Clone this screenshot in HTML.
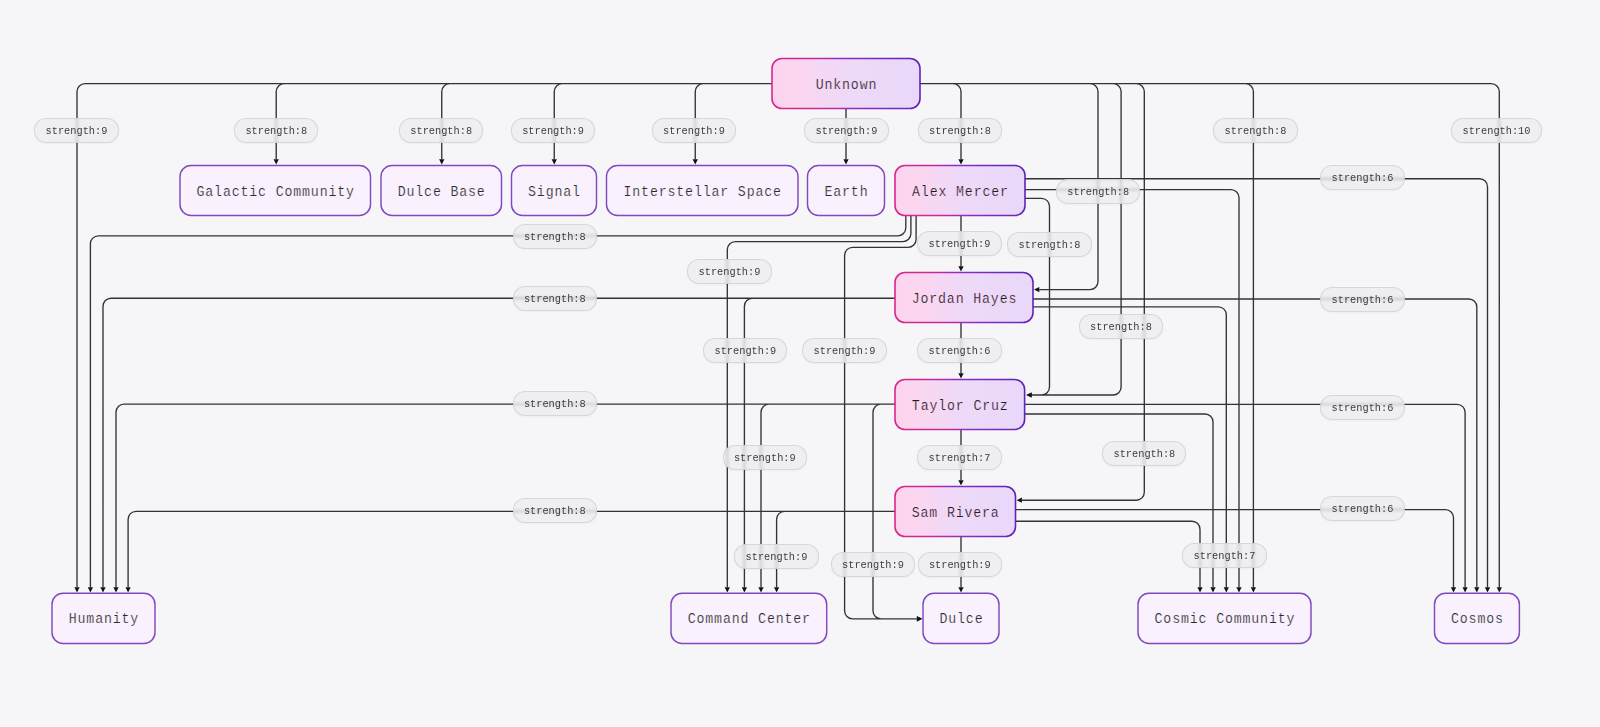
<!DOCTYPE html>
<html><head><meta charset="utf-8"><title>Diagram</title>
<style>
html,body{margin:0;padding:0;background:#f6f6f8;}
body{width:1600px;height:727px;overflow:hidden;position:relative;font-family:"Liberation Mono";}
svg{position:absolute;left:0;top:0;}
.lb{position:absolute;height:25px;line-height:24.6px;border-radius:12px;border:1px solid rgba(205,205,208,0.75);
background:rgba(236,236,238,0.72);-webkit-backdrop-filter:blur(1.5px);backdrop-filter:blur(1.5px);
font-size:10.3px;color:#3d3d3d;text-align:center;box-sizing:border-box;white-space:nowrap;
box-shadow:0 1px 2px rgba(0,0,0,0.04);}
</style></head><body>
<svg width="1600" height="727" viewBox="0 0 1600 727">
<g fill="none" stroke="#333" stroke-width="1.35">
<path d="M772.00 83.60 L85.00 83.60 A8.00 8.00 0 0 0 77.00 91.60 L77.00 587.20 M772.00 83.60 L284.20 83.60 A8.00 8.00 0 0 0 276.20 91.60 L276.20 159.30 M772.00 83.60 L449.75 83.60 A8.00 8.00 0 0 0 441.75 91.60 L441.75 159.30 M772.00 83.60 L562.25 83.60 A8.00 8.00 0 0 0 554.25 91.60 L554.25 159.30 M772.00 83.60 L703.25 83.60 A8.00 8.00 0 0 0 695.25 91.60 L695.25 159.30 M846.00 108.50 L846.00 159.30 M920.00 83.60 L953.00 83.60 A8.00 8.00 0 0 1 961.00 91.60 L961.00 159.30 M920.00 83.60 L1090.00 83.60 A8.00 8.00 0 0 1 1098.00 91.60 L1098.00 281.60 A8.00 8.00 0 0 1 1090.00 289.60 L1039.30 289.60 M920.00 83.60 L1113.10 83.60 A8.00 8.00 0 0 1 1121.10 91.60 L1121.10 387.00 A8.00 8.00 0 0 1 1113.10 395.00 L1031.60 395.00 M920.00 83.60 L1136.30 83.60 A8.00 8.00 0 0 1 1144.30 91.60 L1144.30 492.20 A8.00 8.00 0 0 1 1136.30 500.20 L1021.90 500.20 M920.00 83.60 L1245.40 83.60 A8.00 8.00 0 0 1 1253.40 91.60 L1253.40 587.20 M920.00 83.60 L1491.30 83.60 A8.00 8.00 0 0 1 1499.30 91.60 L1499.30 587.20 M961.00 215.50 L961.00 266.30 M1025.00 198.30 L1041.50 198.30 A8.00 8.00 0 0 1 1049.50 206.30 L1049.50 387.00 A8.00 8.00 0 0 1 1041.50 395.00 L1031.60 395.00 M905.80 215.50 L905.80 227.80 A8.00 8.00 0 0 1 897.80 235.80 L98.40 235.80 A8.00 8.00 0 0 0 90.40 243.80 L90.40 587.20 M910.90 215.50 L910.90 233.60 A8.00 8.00 0 0 1 902.90 241.60 L735.30 241.60 A8.00 8.00 0 0 0 727.30 249.60 L727.30 587.20 M916.10 215.50 L916.10 239.30 A8.00 8.00 0 0 1 908.10 247.30 L852.60 247.30 A8.00 8.00 0 0 0 844.60 255.30 L844.60 610.80 A8.00 8.00 0 0 0 852.60 618.80 L916.90 618.80 M1025.00 189.60 L1231.00 189.60 A8.00 8.00 0 0 1 1239.00 197.60 L1239.00 587.20 M1025.00 178.70 L1479.50 178.70 A8.00 8.00 0 0 1 1487.50 186.70 L1487.50 587.20 M961.00 322.50 L961.00 373.30 M895.00 298.20 L111.00 298.20 A8.00 8.00 0 0 0 103.00 306.20 L103.00 587.20 M895.00 298.20 L752.40 298.20 A8.00 8.00 0 0 0 744.40 306.20 L744.40 587.20 M1033.00 299.00 L1468.80 299.00 A8.00 8.00 0 0 1 1476.80 307.00 L1476.80 587.20 M1033.00 306.80 L1218.30 306.80 A8.00 8.00 0 0 1 1226.30 314.80 L1226.30 587.20 M961.00 429.50 L961.00 480.30 M895.00 404.10 L124.00 404.10 A8.00 8.00 0 0 0 116.00 412.10 L116.00 587.20 M895.00 404.10 L769.00 404.10 A8.00 8.00 0 0 0 761.00 412.10 L761.00 587.20 M895.00 404.10 L881.00 404.10 A8.00 8.00 0 0 0 873.00 412.10 L873.00 610.80 A8.00 8.00 0 0 0 881.00 618.80 L916.90 618.80 M1025.00 404.30 L1457.10 404.30 A8.00 8.00 0 0 1 1465.10 412.30 L1465.10 587.20 M1025.00 414.00 L1205.00 414.00 A8.00 8.00 0 0 1 1213.00 422.00 L1213.00 587.20 M961.00 536.50 L961.00 587.20 M895.00 511.30 L136.10 511.30 A8.00 8.00 0 0 0 128.10 519.30 L128.10 587.20 M895.00 511.30 L784.60 511.30 A8.00 8.00 0 0 0 776.60 519.30 L776.60 587.20 M1015.50 509.60 L1445.50 509.60 A8.00 8.00 0 0 1 1453.50 517.60 L1453.50 587.20 M1015.50 521.20 L1192.00 521.20 A8.00 8.00 0 0 1 1200.00 529.20 L1200.00 587.20"/>
</g><g fill="#111">
<polygon points="77.00,592.50 74.40,587.20 79.60,587.20"/>
<polygon points="276.20,164.60 273.60,159.30 278.80,159.30"/>
<polygon points="441.75,164.60 439.15,159.30 444.35,159.30"/>
<polygon points="554.25,164.60 551.65,159.30 556.85,159.30"/>
<polygon points="695.25,164.60 692.65,159.30 697.85,159.30"/>
<polygon points="846.00,164.60 843.40,159.30 848.60,159.30"/>
<polygon points="961.00,164.60 958.40,159.30 963.60,159.30"/>
<polygon points="1034.00,289.60 1039.30,287.00 1039.30,292.20"/>
<polygon points="1026.30,395.00 1031.60,392.40 1031.60,397.60"/>
<polygon points="1016.60,500.20 1021.90,497.60 1021.90,502.80"/>
<polygon points="1253.40,592.50 1250.80,587.20 1256.00,587.20"/>
<polygon points="1499.30,592.50 1496.70,587.20 1501.90,587.20"/>
<polygon points="961.00,271.60 958.40,266.30 963.60,266.30"/>
<polygon points="1026.30,395.00 1031.60,392.40 1031.60,397.60"/>
<polygon points="90.40,592.50 87.80,587.20 93.00,587.20"/>
<polygon points="727.30,592.50 724.70,587.20 729.90,587.20"/>
<polygon points="922.20,618.80 916.90,621.40 916.90,616.20"/>
<polygon points="1239.00,592.50 1236.40,587.20 1241.60,587.20"/>
<polygon points="1487.50,592.50 1484.90,587.20 1490.10,587.20"/>
<polygon points="961.00,378.60 958.40,373.30 963.60,373.30"/>
<polygon points="103.00,592.50 100.40,587.20 105.60,587.20"/>
<polygon points="744.40,592.50 741.80,587.20 747.00,587.20"/>
<polygon points="1476.80,592.50 1474.20,587.20 1479.40,587.20"/>
<polygon points="1226.30,592.50 1223.70,587.20 1228.90,587.20"/>
<polygon points="961.00,485.60 958.40,480.30 963.60,480.30"/>
<polygon points="116.00,592.50 113.40,587.20 118.60,587.20"/>
<polygon points="761.00,592.50 758.40,587.20 763.60,587.20"/>
<polygon points="922.20,618.80 916.90,621.40 916.90,616.20"/>
<polygon points="1465.10,592.50 1462.50,587.20 1467.70,587.20"/>
<polygon points="1213.00,592.50 1210.40,587.20 1215.60,587.20"/>
<polygon points="961.00,592.50 958.40,587.20 963.60,587.20"/>
<polygon points="128.10,592.50 125.50,587.20 130.70,587.20"/>
<polygon points="776.60,592.50 774.00,587.20 779.20,587.20"/>
<polygon points="1453.50,592.50 1450.90,587.20 1456.10,587.20"/>
<polygon points="1200.00,592.50 1197.40,587.20 1202.60,587.20"/>
</g>
<defs><linearGradient id="hf" x1="0" y1="0" x2="1" y2="0"><stop offset="0" stop-color="#fdd4ee"/><stop offset="0.15" stop-color="#fcd6ef"/><stop offset="0.5" stop-color="#eed9f8"/><stop offset="1" stop-color="#e9d8fa"/></linearGradient><linearGradient id="hs" x1="0" y1="0.55" x2="1" y2="0.45"><stop offset="0" stop-color="#d9268f"/><stop offset="0.3" stop-color="#cc2898"/><stop offset="0.55" stop-color="#8a2cc6"/><stop offset="1" stop-color="#5f24b6"/></linearGradient></defs>
<linearGradient id="g0" gradientUnits="userSpaceOnUse" x1="772.00" y1="0" x2="920.00" y2="0"><stop offset="0" stop-color="#fdd4ee"/><stop offset="0.15" stop-color="#fcd6ef"/><stop offset="0.5" stop-color="#eed9f8"/><stop offset="1" stop-color="#e9d8fa"/></linearGradient>
<rect x="772.00" y="58.50" width="148.00" height="50.00" rx="10" fill="url(#hf)" stroke="url(#hs)" stroke-width="1.6"/>
<text transform="translate(846.00 88.50) scale(0.860 1)" x="0.50" y="0" text-anchor="middle" letter-spacing="0.99" font-family="Liberation Mono" font-size="15.40" fill="#1f1a24" stroke="url(#g0)" stroke-width="0.22">Unknown</text>
<rect x="180.00" y="165.50" width="190.50" height="50.00" rx="11" fill="#f9f1fd" stroke="#8049bf" stroke-width="1.45"/>
<text transform="translate(275.25 195.50) scale(0.860 1)" x="0.50" y="0" text-anchor="middle" letter-spacing="0.99" font-family="Liberation Mono" font-size="15.40" fill="#2a2a2a" stroke="#f9f1fd" stroke-width="0.22">Galactic Community</text>
<rect x="381.00" y="165.50" width="120.50" height="50.00" rx="11" fill="#f9f1fd" stroke="#8049bf" stroke-width="1.45"/>
<text transform="translate(441.25 195.50) scale(0.860 1)" x="0.50" y="0" text-anchor="middle" letter-spacing="0.99" font-family="Liberation Mono" font-size="15.40" fill="#2a2a2a" stroke="#f9f1fd" stroke-width="0.22">Dulce Base</text>
<rect x="511.50" y="165.50" width="85.00" height="50.00" rx="11" fill="#f9f1fd" stroke="#8049bf" stroke-width="1.45"/>
<text transform="translate(554.00 195.50) scale(0.860 1)" x="0.50" y="0" text-anchor="middle" letter-spacing="0.99" font-family="Liberation Mono" font-size="15.40" fill="#2a2a2a" stroke="#f9f1fd" stroke-width="0.22">Signal</text>
<rect x="606.50" y="165.50" width="191.50" height="50.00" rx="11" fill="#f9f1fd" stroke="#8049bf" stroke-width="1.45"/>
<text transform="translate(702.25 195.50) scale(0.860 1)" x="0.50" y="0" text-anchor="middle" letter-spacing="0.99" font-family="Liberation Mono" font-size="15.40" fill="#2a2a2a" stroke="#f9f1fd" stroke-width="0.22">Interstellar Space</text>
<rect x="807.50" y="165.50" width="77.00" height="50.00" rx="11" fill="#f9f1fd" stroke="#8049bf" stroke-width="1.45"/>
<text transform="translate(846.00 195.50) scale(0.860 1)" x="0.50" y="0" text-anchor="middle" letter-spacing="0.99" font-family="Liberation Mono" font-size="15.40" fill="#2a2a2a" stroke="#f9f1fd" stroke-width="0.22">Earth</text>
<linearGradient id="g6" gradientUnits="userSpaceOnUse" x1="895.00" y1="0" x2="1025.00" y2="0"><stop offset="0" stop-color="#fdd4ee"/><stop offset="0.15" stop-color="#fcd6ef"/><stop offset="0.5" stop-color="#eed9f8"/><stop offset="1" stop-color="#e9d8fa"/></linearGradient>
<rect x="895.00" y="165.50" width="130.00" height="50.00" rx="10" fill="url(#hf)" stroke="url(#hs)" stroke-width="1.6"/>
<text transform="translate(960.00 195.50) scale(0.860 1)" x="0.50" y="0" text-anchor="middle" letter-spacing="0.99" font-family="Liberation Mono" font-size="15.40" fill="#1f1a24" stroke="url(#g6)" stroke-width="0.22">Alex Mercer</text>
<linearGradient id="g7" gradientUnits="userSpaceOnUse" x1="895.00" y1="0" x2="1033.00" y2="0"><stop offset="0" stop-color="#fdd4ee"/><stop offset="0.15" stop-color="#fcd6ef"/><stop offset="0.5" stop-color="#eed9f8"/><stop offset="1" stop-color="#e9d8fa"/></linearGradient>
<rect x="895.00" y="272.50" width="138.00" height="50.00" rx="10" fill="url(#hf)" stroke="url(#hs)" stroke-width="1.6"/>
<text transform="translate(964.00 302.50) scale(0.860 1)" x="0.50" y="0" text-anchor="middle" letter-spacing="0.99" font-family="Liberation Mono" font-size="15.40" fill="#1f1a24" stroke="url(#g7)" stroke-width="0.22">Jordan Hayes</text>
<linearGradient id="g8" gradientUnits="userSpaceOnUse" x1="895.00" y1="0" x2="1024.60" y2="0"><stop offset="0" stop-color="#fdd4ee"/><stop offset="0.15" stop-color="#fcd6ef"/><stop offset="0.5" stop-color="#eed9f8"/><stop offset="1" stop-color="#e9d8fa"/></linearGradient>
<rect x="895.00" y="379.50" width="129.60" height="50.00" rx="10" fill="url(#hf)" stroke="url(#hs)" stroke-width="1.6"/>
<text transform="translate(959.80 409.50) scale(0.860 1)" x="0.50" y="0" text-anchor="middle" letter-spacing="0.99" font-family="Liberation Mono" font-size="15.40" fill="#1f1a24" stroke="url(#g8)" stroke-width="0.22">Taylor Cruz</text>
<linearGradient id="g9" gradientUnits="userSpaceOnUse" x1="895.00" y1="0" x2="1015.50" y2="0"><stop offset="0" stop-color="#fdd4ee"/><stop offset="0.15" stop-color="#fcd6ef"/><stop offset="0.5" stop-color="#eed9f8"/><stop offset="1" stop-color="#e9d8fa"/></linearGradient>
<rect x="895.00" y="486.50" width="120.50" height="50.00" rx="10" fill="url(#hf)" stroke="url(#hs)" stroke-width="1.6"/>
<text transform="translate(955.25 516.50) scale(0.860 1)" x="0.50" y="0" text-anchor="middle" letter-spacing="0.99" font-family="Liberation Mono" font-size="15.40" fill="#1f1a24" stroke="url(#g9)" stroke-width="0.22">Sam Rivera</text>
<rect x="52.00" y="593.30" width="103.00" height="50.20" rx="11" fill="#f9f1fd" stroke="#8049bf" stroke-width="1.45"/>
<text transform="translate(103.50 623.40) scale(0.860 1)" x="0.50" y="0" text-anchor="middle" letter-spacing="0.99" font-family="Liberation Mono" font-size="15.40" fill="#2a2a2a" stroke="#f9f1fd" stroke-width="0.22">Humanity</text>
<rect x="671.00" y="593.30" width="155.70" height="50.20" rx="11" fill="#f9f1fd" stroke="#8049bf" stroke-width="1.45"/>
<text transform="translate(748.85 623.40) scale(0.860 1)" x="0.50" y="0" text-anchor="middle" letter-spacing="0.99" font-family="Liberation Mono" font-size="15.40" fill="#2a2a2a" stroke="#f9f1fd" stroke-width="0.22">Command Center</text>
<rect x="923.00" y="593.30" width="76.00" height="50.20" rx="11" fill="#f9f1fd" stroke="#8049bf" stroke-width="1.45"/>
<text transform="translate(961.00 623.40) scale(0.860 1)" x="0.50" y="0" text-anchor="middle" letter-spacing="0.99" font-family="Liberation Mono" font-size="15.40" fill="#2a2a2a" stroke="#f9f1fd" stroke-width="0.22">Dulce</text>
<rect x="1138.00" y="593.30" width="173.00" height="50.20" rx="11" fill="#f9f1fd" stroke="#8049bf" stroke-width="1.45"/>
<text transform="translate(1224.50 623.40) scale(0.860 1)" x="0.50" y="0" text-anchor="middle" letter-spacing="0.99" font-family="Liberation Mono" font-size="15.40" fill="#2a2a2a" stroke="#f9f1fd" stroke-width="0.22">Cosmic Community</text>
<rect x="1434.50" y="593.30" width="84.90" height="50.20" rx="11" fill="#f9f1fd" stroke="#8049bf" stroke-width="1.45"/>
<text transform="translate(1476.95 623.40) scale(0.860 1)" x="0.50" y="0" text-anchor="middle" letter-spacing="0.99" font-family="Liberation Mono" font-size="15.40" fill="#2a2a2a" stroke="#f9f1fd" stroke-width="0.22">Cosmos</text>
</svg>
<div class="lb" style="left:34.4px;top:117.8px;width:84.2px">strength:9</div>
<div class="lb" style="left:234.2px;top:117.8px;width:84.2px">strength:8</div>
<div class="lb" style="left:399.1px;top:117.8px;width:84.2px">strength:8</div>
<div class="lb" style="left:511.0px;top:117.8px;width:84.2px">strength:9</div>
<div class="lb" style="left:651.9px;top:117.8px;width:84.2px">strength:9</div>
<div class="lb" style="left:804.4px;top:117.8px;width:84.2px">strength:9</div>
<div class="lb" style="left:917.9px;top:117.8px;width:84.2px">strength:8</div>
<div class="lb" style="left:1213.4px;top:117.9px;width:84.2px">strength:8</div>
<div class="lb" style="left:1451.3px;top:117.9px;width:90.4px">strength:10</div>
<div class="lb" style="left:1320.4px;top:164.8px;width:84.2px">strength:6</div>
<div class="lb" style="left:1056.1px;top:179.0px;width:84.2px">strength:8</div>
<div class="lb" style="left:512.7px;top:223.9px;width:84.2px">strength:8</div>
<div class="lb" style="left:917.4px;top:231.1px;width:84.2px">strength:9</div>
<div class="lb" style="left:1007.4px;top:231.5px;width:84.2px">strength:8</div>
<div class="lb" style="left:687.4px;top:259.2px;width:84.2px">strength:9</div>
<div class="lb" style="left:512.7px;top:286.0px;width:84.2px">strength:8</div>
<div class="lb" style="left:1320.4px;top:286.7px;width:84.2px">strength:6</div>
<div class="lb" style="left:1078.9px;top:314.0px;width:84.2px">strength:8</div>
<div class="lb" style="left:703.3px;top:338.2px;width:84.2px">strength:9</div>
<div class="lb" style="left:802.4px;top:338.2px;width:84.2px">strength:9</div>
<div class="lb" style="left:917.4px;top:338.2px;width:84.2px">strength:6</div>
<div class="lb" style="left:512.7px;top:391.0px;width:84.2px">strength:8</div>
<div class="lb" style="left:1320.4px;top:395.1px;width:84.2px">strength:6</div>
<div class="lb" style="left:1102.3px;top:441.0px;width:84.2px">strength:8</div>
<div class="lb" style="left:722.7px;top:445.1px;width:84.2px">strength:9</div>
<div class="lb" style="left:917.4px;top:445.1px;width:84.2px">strength:7</div>
<div class="lb" style="left:512.7px;top:498.3px;width:84.2px">strength:8</div>
<div class="lb" style="left:1320.4px;top:495.9px;width:84.2px">strength:6</div>
<div class="lb" style="left:1182.4px;top:543.3px;width:84.2px">strength:7</div>
<div class="lb" style="left:734.4px;top:544.3px;width:84.2px">strength:9</div>
<div class="lb" style="left:830.9px;top:552.0px;width:84.2px">strength:9</div>
<div class="lb" style="left:917.7px;top:552.0px;width:84.2px">strength:9</div>
</body></html>
